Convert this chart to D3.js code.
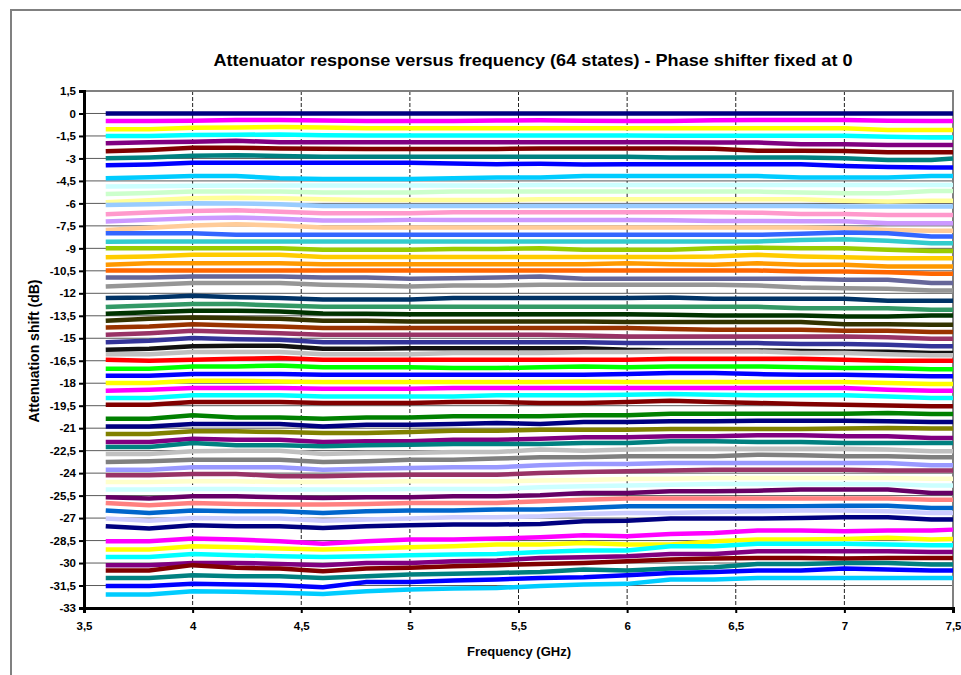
<!DOCTYPE html>
<html>
<head>
<meta charset="utf-8">
<script src="https://cdn.jsdelivr.net/npm/d3@7"></script>
<style>
  body { margin: 0; background: #fff; }
  text { font-family: "Liberation Sans", Arial, sans-serif; font-weight: bold; fill: #000; }
</style>
</head>
<body>
<div id="chart"></div>
<script>
// Frequencies (GHz) of the measured points
const freqs = [3.6, 3.8, 4.0, 4.2, 4.4, 4.6, 4.8, 5.0, 5.2, 5.4, 5.6, 5.8, 6.0, 6.2, 6.4, 6.6, 6.8, 7.0, 7.2, 7.4, 7.5];

// Tick values
const xTicks = [3.5, 4, 4.5, 5, 5.5, 6, 6.5, 7, 7.5];
const yTicks = [1.5, 0, -1.5, -3, -4.5, -6, -7.5, -9, -10.5, -12, -13.5, -15, -16.5, -18, -19.5, -21, -22.5, -24, -25.5, -27, -28.5, -30, -31.5, -33];

// Excel-style series colours, one per state
const seriesColors = [
  "#000080", "#FF00FF", "#FFFF00", "#00FFFF", "#800080", "#800000", "#008080", "#0000FF",
  "#00CCFF", "#CCFFFF", "#CCFFCC", "#FFFF99", "#99CCFF", "#FF99CC", "#CC99FF", "#FFCC99",
  "#3366FF", "#33CCCC", "#99CC00", "#FFCC00", "#FF9900", "#FF6600", "#666699", "#969696",
  "#003366", "#339966", "#003300", "#333300", "#993300", "#993366", "#333399", "#111111",
  "#C0C0C0", "#FF0000", "#00FF00", "#0000FF", "#FFFF00", "#FF00FF", "#00FFFF", "#800000",
  "#008000", "#000080", "#808000", "#800080", "#008080", "#C0C0C0", "#808080", "#9999FF",
  "#993366", "#FFFFCC", "#CCFFFF", "#660066", "#FF8080", "#0066CC", "#CCCCFF", "#000080",
  "#FF00FF", "#FFFF00", "#00FFFF", "#800080", "#800000", "#008080", "#0000FF", "#00CCFF"
];

// Attenuation shift (dB) of each of the 64 states, one row per state, one value per frequency
const states = [
  [0,0,0,0,0,0,0,0,0,0,0,0,0,0,0,0,0,0,0,0,0],
  [-0.5,-0.5,-0.48,-0.44,-0.44,-0.47,-0.5,-0.5,-0.5,-0.47,-0.45,-0.48,-0.5,-0.5,-0.46,-0.44,-0.44,-0.44,-0.49,-0.5,-0.5],
  [-1.06,-1.05,-0.95,-0.93,-0.91,-0.94,-0.99,-0.99,-0.99,-0.99,-0.99,-0.99,-0.99,-0.99,-0.99,-0.99,-0.99,-0.99,-1.1,-1.1,-1.1],
  [-1.5,-1.5,-1.44,-1.42,-1.4,-1.45,-1.47,-1.47,-1.47,-1.47,-1.47,-1.47,-1.47,-1.48,-1.48,-1.48,-1.48,-1.48,-1.55,-1.61,-1.61],
  [-1.99,-1.92,-1.88,-1.82,-1.92,-1.92,-1.92,-1.92,-1.92,-1.92,-1.92,-1.92,-1.92,-1.92,-1.93,-1.94,-2.06,-2.06,-2.1,-2.1,-2.1],
  [-2.52,-2.43,-2.29,-2.29,-2.33,-2.35,-2.37,-2.37,-2.37,-2.37,-2.33,-2.33,-2.33,-2.33,-2.35,-2.49,-2.49,-2.5,-2.59,-2.59,-2.59],
  [-2.99,-2.93,-2.82,-2.79,-2.83,-2.88,-2.88,-2.88,-2.88,-2.88,-2.88,-2.88,-2.88,-2.94,-2.94,-2.94,-2.94,-2.98,-3.1,-3.1,-3.0],
  [-3.46,-3.4,-3.29,-3.29,-3.29,-3.29,-3.29,-3.29,-3.33,-3.38,-3.36,-3.4,-3.39,-3.39,-3.39,-3.39,-3.39,-3.5,-3.57,-3.61,-3.61],
  [-4.32,-4.26,-4.17,-4.17,-4.32,-4.37,-4.37,-4.37,-4.32,-4.28,-4.28,-4.17,-4.17,-4.17,-4.17,-4.17,-4.28,-4.28,-4.28,-4.17,-4.17],
  [-4.87,-4.85,-4.83,-4.8,-4.8,-4.8,-4.8,-4.8,-4.8,-4.8,-4.78,-4.78,-4.78,-4.78,-4.78,-4.78,-4.78,-4.78,-4.78,-4.78,-4.78],
  [-5.37,-5.3,-5.21,-5.21,-5.21,-5.28,-5.28,-5.28,-5.21,-5.21,-5.21,-5.21,-5.21,-5.21,-5.21,-5.21,-5.28,-5.32,-5.32,-5.17,-5.17],
  [-5.92,-5.79,-5.66,-5.62,-5.66,-5.72,-5.77,-5.77,-5.77,-5.77,-5.72,-5.72,-5.72,-5.72,-5.72,-5.72,-5.72,-5.83,-5.88,-5.83,-5.83],
  [-6.1,-6.05,-5.99,-6.0,-6.05,-6.17,-6.17,-6.17,-6.17,-6.17,-6.17,-6.17,-6.17,-6.17,-6.17,-6.17,-6.17,-6.2,-6.2,-6.2,-6.2],
  [-6.72,-6.61,-6.5,-6.46,-6.55,-6.66,-6.66,-6.66,-6.59,-6.59,-6.59,-6.59,-6.59,-6.59,-6.59,-6.62,-6.7,-6.7,-6.77,-6.77,-6.77],
  [-7.21,-7.1,-6.99,-6.94,-7.03,-7.14,-7.14,-7.1,-7.1,-7.1,-7.1,-7.1,-7.1,-7.12,-7.17,-7.17,-7.2,-7.2,-7.32,-7.32,-7.32],
  [-7.77,-7.62,-7.48,-7.39,-7.48,-7.61,-7.61,-7.61,-7.61,-7.61,-7.61,-7.61,-7.61,-7.61,-7.61,-7.61,-7.61,-7.66,-7.77,-7.83,-7.83],
  [-7.99,-7.99,-7.99,-8.1,-8.1,-8.1,-8.1,-8.1,-8.1,-8.1,-8.1,-8.1,-8.1,-8.1,-8.1,-8.1,-8.02,-7.94,-8.0,-8.21,-8.21],
  [-8.56,-8.54,-8.54,-8.54,-8.54,-8.54,-8.54,-8.54,-8.54,-8.54,-8.54,-8.54,-8.54,-8.54,-8.54,-8.54,-8.45,-8.4,-8.5,-8.66,-8.66],
  [-8.99,-8.99,-8.99,-8.99,-8.99,-9.1,-9.1,-9.1,-9.04,-9.04,-8.99,-9.1,-9.1,-9.1,-8.99,-8.95,-8.99,-8.99,-9.1,-9.17,-9.17],
  [-9.59,-9.54,-9.43,-9.43,-9.43,-9.57,-9.57,-9.57,-9.57,-9.57,-9.57,-9.57,-9.57,-9.57,-9.55,-9.43,-9.54,-9.59,-9.66,-9.66,-9.66],
  [-10.1,-9.99,-9.99,-9.99,-9.99,-10.06,-10.06,-10.06,-10.06,-10.06,-10.06,-10.06,-10.0,-10.06,-10.1,-10.0,-10.1,-10.1,-10.21,-10.21,-10.21],
  [-10.48,-10.48,-10.48,-10.48,-10.48,-10.48,-10.48,-10.48,-10.48,-10.48,-10.48,-10.48,-10.48,-10.48,-10.48,-10.48,-10.54,-10.54,-10.59,-10.7,-10.7],
  [-10.94,-10.94,-10.88,-10.88,-10.88,-10.94,-10.94,-11.03,-10.99,-10.94,-10.88,-11.03,-11.03,-11.03,-11.03,-11.03,-11.03,-11.1,-11.1,-11.32,-11.32],
  [-11.54,-11.43,-11.32,-11.32,-11.32,-11.43,-11.48,-11.54,-11.48,-11.48,-11.43,-11.43,-11.43,-11.43,-11.43,-11.48,-11.61,-11.66,-11.7,-11.81,-11.81],
  [-12.32,-12.28,-12.17,-12.26,-12.32,-12.41,-12.41,-12.41,-12.32,-12.32,-12.32,-12.32,-12.32,-12.28,-12.37,-12.37,-12.37,-12.37,-12.5,-12.5,-12.5],
  [-12.92,-12.81,-12.72,-12.72,-12.81,-12.9,-12.9,-12.9,-12.9,-12.9,-12.9,-12.9,-12.9,-12.9,-12.9,-12.9,-12.99,-12.99,-12.99,-13.1,-13.1],
  [-13.37,-13.26,-13.17,-13.17,-13.21,-13.34,-13.37,-13.39,-13.39,-13.39,-13.39,-13.39,-13.39,-13.43,-13.48,-13.48,-13.48,-13.54,-13.54,-13.48,-13.48],
  [-13.83,-13.7,-13.61,-13.66,-13.7,-13.83,-13.83,-13.88,-13.88,-13.88,-13.88,-13.88,-13.92,-13.92,-13.92,-13.92,-13.92,-14.06,-14.06,-14.1,-14.1],
  [-14.28,-14.21,-14.06,-14.15,-14.21,-14.32,-14.32,-14.32,-14.32,-14.32,-14.32,-14.32,-14.32,-14.39,-14.43,-14.43,-14.43,-14.5,-14.5,-14.59,-14.59],
  [-14.77,-14.66,-14.5,-14.59,-14.66,-14.77,-14.77,-14.77,-14.77,-14.77,-14.77,-14.81,-14.88,-14.88,-14.88,-14.88,-14.88,-14.88,-14.94,-15.03,-15.03],
  [-15.26,-15.17,-14.99,-15.06,-15.1,-15.26,-15.26,-15.26,-15.26,-15.26,-15.26,-15.26,-15.32,-15.32,-15.32,-15.32,-15.39,-15.39,-15.43,-15.54,-15.54],
  [-15.77,-15.7,-15.54,-15.5,-15.5,-15.7,-15.7,-15.66,-15.66,-15.66,-15.66,-15.66,-15.77,-15.81,-15.81,-15.81,-15.85,-15.88,-15.9,-15.99,-15.99],
  [-16.06,-16.06,-15.92,-15.92,-15.92,-16.06,-16.06,-16.06,-15.99,-15.99,-15.99,-15.92,-15.92,-15.88,-15.88,-15.88,-15.99,-15.99,-16.06,-16.14,-16.14],
  [-16.43,-16.5,-16.43,-16.37,-16.32,-16.43,-16.43,-16.43,-16.43,-16.43,-16.43,-16.43,-16.43,-16.37,-16.37,-16.37,-16.37,-16.43,-16.5,-16.5,-16.5],
  [-17.03,-17.03,-16.88,-16.88,-16.81,-16.94,-16.94,-16.94,-16.99,-16.99,-16.94,-16.88,-16.94,-16.88,-16.88,-16.88,-16.94,-16.99,-16.99,-17.06,-17.06],
  [-17.5,-17.5,-17.39,-17.39,-17.39,-17.43,-17.43,-17.43,-17.43,-17.43,-17.43,-17.43,-17.39,-17.32,-17.32,-17.39,-17.43,-17.43,-17.48,-17.54,-17.54],
  [-17.99,-17.99,-17.83,-17.83,-17.88,-17.92,-17.92,-17.92,-17.92,-17.92,-17.92,-17.88,-17.92,-17.92,-17.92,-17.92,-17.92,-17.92,-17.99,-18.06,-18.06],
  [-18.5,-18.43,-18.32,-18.32,-18.32,-18.37,-18.37,-18.37,-18.32,-18.32,-18.32,-18.32,-18.32,-18.32,-18.32,-18.32,-18.32,-18.32,-18.43,-18.5,-18.5],
  [-18.99,-18.99,-18.81,-18.81,-18.81,-18.88,-18.88,-18.88,-18.88,-18.81,-18.81,-18.81,-18.77,-18.72,-18.77,-18.81,-18.81,-18.81,-18.88,-18.99,-18.99],
  [-19.43,-19.43,-19.26,-19.26,-19.26,-19.32,-19.32,-19.32,-19.26,-19.26,-19.32,-19.32,-19.26,-19.17,-19.26,-19.32,-19.39,-19.43,-19.48,-19.54,-19.54],
  [-20.37,-20.37,-20.14,-20.28,-20.28,-20.37,-20.28,-20.28,-20.21,-20.21,-20.21,-20.14,-20.14,-20.03,-20.03,-20.03,-20.03,-20.03,-19.99,-20.06,-20.06],
  [-20.88,-20.88,-20.72,-20.72,-20.72,-20.88,-20.77,-20.77,-20.72,-20.66,-20.72,-20.59,-20.59,-20.54,-20.54,-20.5,-20.5,-20.5,-20.54,-20.59,-20.59],
  [-21.39,-21.39,-21.21,-21.21,-21.26,-21.32,-21.32,-21.26,-21.17,-21.17,-21.1,-21.1,-21.1,-21.06,-21.06,-21.06,-21.06,-21.03,-20.99,-21.03,-21.03],
  [-21.92,-21.92,-21.7,-21.77,-21.77,-21.92,-21.88,-21.88,-21.77,-21.77,-21.7,-21.61,-21.61,-21.54,-21.54,-21.48,-21.48,-21.54,-21.54,-21.66,-21.66],
  [-22.26,-22.26,-21.99,-22.14,-22.14,-22.21,-22.14,-22.1,-22.06,-22.06,-22.06,-21.99,-21.99,-21.88,-21.88,-21.92,-21.92,-21.99,-21.99,-21.99,-21.99],
  [-22.72,-22.72,-22.54,-22.5,-22.5,-22.72,-22.66,-22.66,-22.59,-22.59,-22.43,-22.5,-22.43,-22.37,-22.37,-22.37,-22.37,-22.37,-22.43,-22.54,-22.54],
  [-23.26,-23.21,-23.1,-23.1,-23.1,-23.26,-23.21,-23.1,-23.1,-23.03,-22.94,-22.94,-22.88,-22.88,-22.88,-22.77,-22.81,-22.88,-22.88,-22.94,-22.94],
  [-23.77,-23.77,-23.61,-23.61,-23.61,-23.77,-23.7,-23.66,-23.61,-23.61,-23.48,-23.39,-23.39,-23.32,-23.32,-23.32,-23.32,-23.32,-23.32,-23.48,-23.48],
  [-24.14,-24.14,-24.05,-24.05,-24.21,-24.21,-24.14,-24.1,-24.1,-24.1,-23.99,-23.92,-23.88,-23.83,-23.77,-23.77,-23.77,-23.77,-23.83,-23.83,-23.83],
  [-24.59,-24.59,-24.55,-24.55,-24.59,-24.59,-24.59,-24.55,-24.55,-24.55,-24.5,-24.46,-24.39,-24.37,-24.33,-24.33,-24.33,-24.33,-24.33,-24.37,-24.37],
  [-25.1,-25.1,-25.06,-25.06,-25.1,-25.1,-25.1,-25.06,-25.06,-25.06,-24.94,-24.88,-24.83,-24.77,-24.72,-24.72,-24.72,-24.72,-24.75,-24.83,-24.83],
  [-25.61,-25.7,-25.54,-25.54,-25.61,-25.66,-25.61,-25.61,-25.54,-25.54,-25.48,-25.32,-25.32,-25.21,-25.21,-25.17,-25.1,-25.1,-25.1,-25.32,-25.32],
  [-25.99,-26.14,-25.99,-26.06,-26.1,-26.1,-26.06,-25.99,-25.99,-25.99,-25.88,-25.77,-25.7,-25.7,-25.7,-25.7,-25.7,-25.7,-25.7,-25.77,-25.77],
  [-26.5,-26.66,-26.5,-26.55,-26.55,-26.66,-26.55,-26.5,-26.5,-26.43,-26.43,-26.32,-26.21,-26.21,-26.21,-26.21,-26.21,-26.17,-26.17,-26.32,-26.32],
  [-27.03,-27.17,-26.99,-27.03,-27.03,-27.17,-27.1,-27.03,-26.94,-26.94,-26.88,-26.72,-26.66,-26.66,-26.59,-26.55,-26.5,-26.5,-26.55,-26.66,-26.66],
  [-27.54,-27.7,-27.48,-27.54,-27.54,-27.66,-27.54,-27.48,-27.43,-27.43,-27.39,-27.21,-27.17,-27.03,-27.03,-27.03,-26.99,-26.94,-26.94,-27.1,-27.1],
  [-28.54,-28.54,-28.37,-28.43,-28.54,-28.72,-28.54,-28.43,-28.43,-28.37,-28.28,-28.14,-28.21,-28.06,-27.99,-27.83,-27.83,-27.88,-27.83,-27.83,-27.77],
  [-29.1,-29.1,-28.88,-28.94,-29.03,-29.1,-29.03,-28.94,-28.88,-28.77,-28.77,-28.66,-28.77,-28.77,-28.54,-28.43,-28.43,-28.39,-28.32,-28.43,-28.39],
  [-29.6,-29.6,-29.39,-29.48,-29.54,-29.6,-29.54,-29.48,-29.43,-29.39,-29.26,-29.17,-29.17,-28.88,-28.88,-28.72,-28.72,-28.72,-28.77,-28.81,-28.81],
  [-30.14,-30.14,-29.99,-29.99,-30.06,-30.14,-29.99,-29.99,-29.88,-29.83,-29.66,-29.61,-29.54,-29.39,-29.39,-29.21,-29.21,-29.21,-29.21,-29.26,-29.26],
  [-30.5,-30.5,-30.14,-30.32,-30.37,-30.54,-30.37,-30.32,-30.21,-30.14,-30.06,-29.99,-29.88,-29.77,-29.7,-29.66,-29.66,-29.7,-29.66,-29.66,-29.66],
  [-31.0,-31.0,-30.81,-30.88,-30.88,-31.0,-30.88,-30.77,-30.72,-30.66,-30.59,-30.43,-30.5,-30.37,-30.28,-30.06,-30.06,-29.99,-29.99,-30.1,-30.1],
  [-31.54,-31.54,-31.39,-31.43,-31.48,-31.61,-31.26,-31.26,-31.17,-31.1,-30.99,-30.94,-30.81,-30.66,-30.59,-30.5,-30.5,-30.37,-30.43,-30.5,-30.5],
  [-32.1,-32.1,-31.88,-31.92,-31.99,-32.06,-31.88,-31.77,-31.7,-31.66,-31.54,-31.43,-31.39,-31.1,-31.1,-30.99,-30.99,-30.99,-30.99,-30.99,-30.99]
];

// Layout
const W = 961, H = 675;
const plot = {left: 84, right: 953, top: 91, bottom: 608};

const svg = d3.select("#chart")
  .append("svg")
  .attr("width", W)
  .attr("height", H);

// Chart area frame
svg.append("rect")
  .attr("x", 11).attr("y", 10)
  .attr("width", W + 20).attr("height", H + 20)
  .attr("fill", "#fff")
  .attr("stroke", "#808080")
  .attr("stroke-width", 2);

// Scales
const x = d3.scaleLinear().domain([3.5, 7.5]).range([plot.left, plot.right]);
const y = d3.scaleLinear().domain([-33, 1.5]).range([plot.bottom, plot.top]);

const fmt = v => String(v).replace(".", ",");

// Horizontal gridlines
svg.append("g")
  .selectAll("line")
  .data(yTicks)
  .enter()
  .append("line")
  .attr("x1", plot.left).attr("x2", plot.right)
  .attr("y1", d => y(d)).attr("y2", d => y(d))
  .attr("stroke", "#5a5a5a")
  .attr("stroke-width", 1);

// Vertical gridlines (dashed)
svg.append("g")
  .selectAll("line")
  .data(xTicks.slice(1, -1))
  .enter()
  .append("line")
  .attr("x1", d => x(d)).attr("x2", d => x(d))
  .attr("y1", plot.top).attr("y2", plot.bottom)
  .attr("stroke", "#222")
  .attr("stroke-width", 1)
  .attr("stroke-dasharray", "4,2");

// Plot area border (top / right)
svg.append("rect")
  .attr("x", plot.left).attr("y", plot.top)
  .attr("width", plot.right - plot.left)
  .attr("height", plot.bottom - plot.top)
  .attr("fill", "none")
  .attr("stroke", "#808080")
  .attr("stroke-width", 2);

// The 64 state lines
const line = d3.line()
  .x((d, i) => x(freqs[i]))
  .y(d => y(d));

svg.append("g")
  .selectAll("path")
  .data(states)
  .enter()
  .append("path")
  .attr("d", line)
  .attr("fill", "none")
  .attr("stroke", (d, i) => seriesColors[i])
  .attr("stroke-width", 4.5);

// Axes
const yAxis = svg.append("g")
  .attr("transform", `translate(${plot.left},0)`)
  .call(d3.axisLeft(y).tickValues(yTicks).tickFormat(fmt).tickSize(5).tickPadding(3));
const xAxis = svg.append("g")
  .attr("transform", `translate(0,${plot.bottom})`)
  .call(d3.axisBottom(x).tickValues(xTicks).tickFormat(fmt).tickSize(5).tickPadding(9));

[yAxis, xAxis].forEach(g => {
  g.select(".domain").attr("stroke", "#000").attr("stroke-width", 3);
  g.selectAll(".tick line").attr("stroke", "#000").attr("stroke-width", 2);
  g.selectAll(".tick text")
    .style("font-family", "'Liberation Sans', Arial, sans-serif")
    .style("font-weight", "bold")
    .style("font-size", "11.5px")
    .attr("fill", "#000");
});

// Title
svg.append("text")
  .attr("x", 533)
  .attr("y", 66)
  .attr("text-anchor", "middle")
  .attr("textLength", 639)
  .attr("lengthAdjust", "spacingAndGlyphs")
  .style("font-size", "17px")
  .text("Attenuator response versus frequency (64 states) - Phase shifter fixed at 0");

// Axis labels
svg.append("text")
  .attr("x", 519)
  .attr("y", 656)
  .attr("text-anchor", "middle")
  .style("font-size", "13px")
  .text("Frequency (GHz)");

svg.append("text")
  .attr("transform", "rotate(-90)")
  .attr("x", -351)
  .attr("y", 39)
  .attr("text-anchor", "middle")
  .style("font-size", "14px")
  .text("Attenuation shift (dB)");
</script>
</body>
</html>
